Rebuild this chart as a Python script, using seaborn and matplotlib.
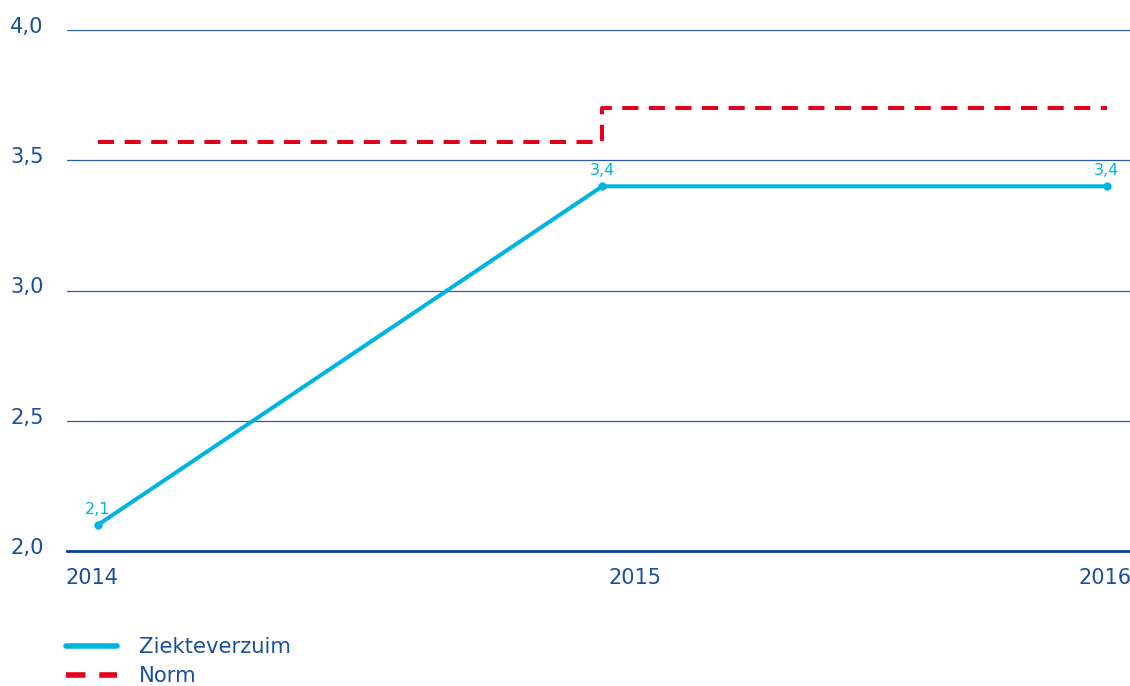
import matplotlib
matplotlib.use("Agg")
import matplotlib.pyplot as plt
from matplotlib.lines import Line2D
import seaborn as sns
import pandas as pd

sns.set_theme(style="white")
plt.rcParams["font.family"] = ["DejaVu Sans"]

# ── Data ──────────────────────────────────────────────────────────────────────
years = [2014, 2015, 2016]
ziekteverzuim = [2.1, 3.4, 3.4]
norm = [3.57, 3.7, 3.7]
y_ticks = [2.0, 2.5, 3.0, 3.5, 4.0]

TEXT = "#1a4f9c"
GRID = "#2a5ba8"
AXIS = "#0a3f96"
CYAN = "#00b4e1"
RED = "#e2001a"


def nl(v):
    return f"{v:.1f}".replace(".", ",")


df = pd.DataFrame({"jaar": years, "Ziekteverzuim": ziekteverzuim, "Norm": norm})

fig = plt.figure(figsize=(11.3, 6.86), dpi=100)
ax = fig.add_axes([67 / 1130, 135 / 686, 1 - 67 / 1130, 521 / 686])

sns.lineplot(data=df, x="jaar", y="Norm", ax=ax, color=RED, linewidth=2.9,
             drawstyle="steps-post", linestyle=(0, (4, 2.6)))
sns.lineplot(data=df, x="jaar", y="Ziekteverzuim", ax=ax, color=CYAN,
             linewidth=2.9, marker="o", markersize=6, markeredgewidth=0)

for x, v in zip(years, ziekteverzuim):
    ax.annotate(nl(v), (x, v), xytext=(0, 6), textcoords="offset points",
                ha="center", va="bottom", color=CYAN, fontsize=11.5)

ax.set_xlim(2013.939, 2016.046)
ax.set_ylim(2.0, 4.0)
for t in y_ticks[1:]:
    ax.axhline(t, color=GRID, linewidth=0.9, zorder=0)

# tick labels drawn as text so their odd offsets can be kept
ax.set_xticks([])
ax.set_yticks([])
ytr = ax.get_yaxis_transform()
for t in y_ticks:
    ax.annotate(nl(t), (0, t), xycoords=ytr, xytext=(-57 * 0.72, 2.2),
                textcoords="offset points", ha="left", va="center",
                fontsize=15.2, color=TEXT, annotation_clip=False)
xtr = ax.get_xaxis_transform()
x_offsets = [-6, 33, -2]
for yr, dx in zip(years, x_offsets):
    ax.annotate(str(yr), (yr, 0), xycoords=xtr, xytext=(dx * 0.72, -27 * 0.72),
                textcoords="offset points", ha="center", va="center",
                fontsize=15, color=TEXT, annotation_clip=False)

for s in ["top", "right", "left"]:
    ax.spines[s].set_visible(False)
ax.spines["bottom"].set_color(AXIS)
ax.spines["bottom"].set_linewidth(2)
ax.set_xlabel("")
ax.set_ylabel("")

handles = [
    Line2D([], [], color=CYAN, linewidth=4, solid_capstyle="round"),
    Line2D([], [], color=RED, linewidth=4, linestyle=(0, (3.5, 2.5))),
]
fig.legend(handles, ["Ziekteverzuim", "Norm"], loc="upper left",
           bbox_to_anchor=(58 / 1130, 1 - 629 / 686), frameon=False,
           fontsize=15.2, labelcolor=TEXT, handlelength=2.4, handletextpad=1.05,
           labelspacing=0.42, borderaxespad=0)

fig.savefig("out.png", dpi=100)
